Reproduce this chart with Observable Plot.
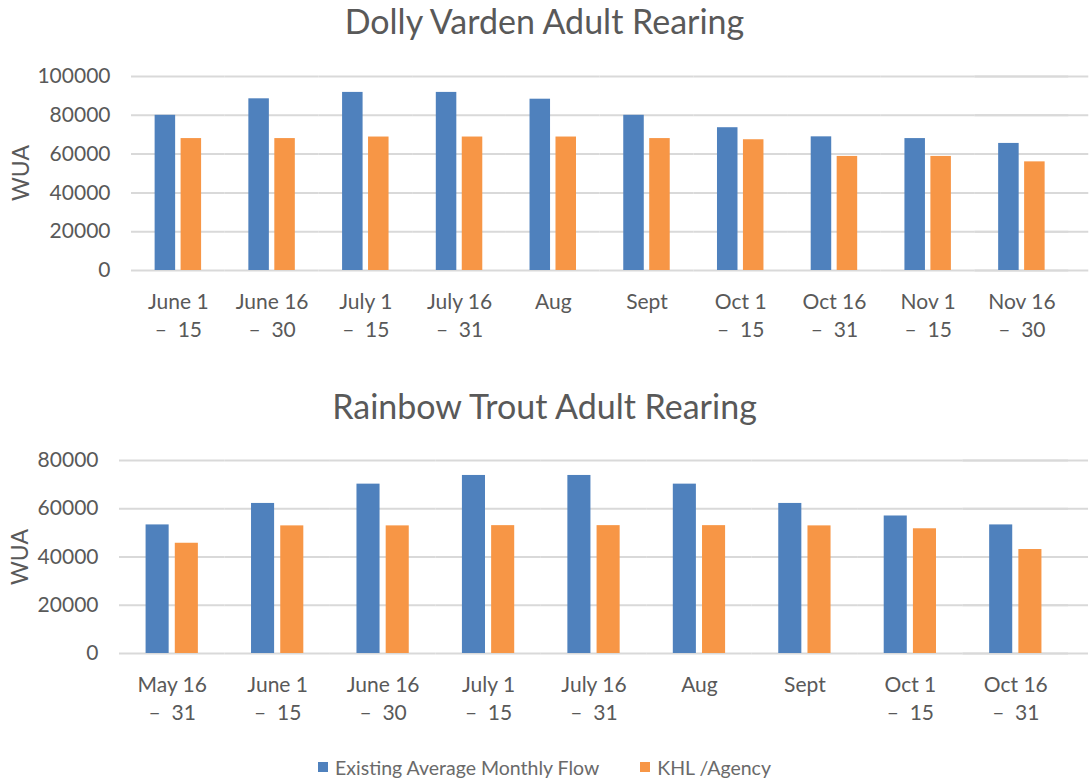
<!DOCTYPE html>
<html>
<head>
<meta charset="utf-8">
<script src="https://cdn.jsdelivr.net/npm/d3@7"></script>
<script src="https://cdn.jsdelivr.net/npm/@observablehq/plot@0.6"></script>
<style>
  body { margin: 0; background: #fff; }
  #wrap { position: relative; width: 1089px; height: 784px; font-family: Lato, sans-serif; color: #595959; overflow: hidden; }
  .title { position: absolute; left: 0; width: 1089px; height: 44px; line-height: 44px; text-align: center; font-size: 34px; white-space: nowrap; }
  .ylab { position: absolute; width: 200px; height: 30px; line-height: 30px; text-align: center; font-size: 23px; transform: rotate(-90deg); }
  .panel { position: absolute; left: 0; }
  #legend { position: absolute; left: 0; top: 752px; width: 1089px; height: 30px; display: flex; justify-content: center; align-items: center; font-size: 19.5px; color: #6a6a6a; }
  .sw { width: 10px; height: 10px; display: inline-block; margin-right: 7px; }
  .item { display: flex; align-items: center; }
</style>
</head>
<body>
<div id="wrap">
  <div class="title" id="t1" style="top:-1px"></div>
  <div class="ylab" style="left:-80px; top:158px">WUA</div>
  <div class="panel" id="p1" style="top:40px"></div>
  <div class="title" id="t2" style="top:384px"></div>
  <div class="ylab" style="left:-81px; top:542px">WUA</div>
  <div class="panel" id="p2" style="top:425px"></div>
  <div id="legend"></div>
</div>
<script>
// ---- Data ----
const dvTitle = "Dolly Varden Adult Rearing";
const dvCategories = ["June 1 – 15", "June 16 – 30", "July 1 – 15", "July 16 – 31", "Aug", "Sept", "Oct 1 – 15", "Oct 16 – 31", "Nov 1 – 15", "Nov 16 – 30"];
const dvExisting = [80000, 88500, 91800, 91800, 88300, 80000, 73600, 68900, 68000, 65500];
const dvKHL = [68000, 68000, 68800, 68800, 68800, 68000, 67400, 58800, 58800, 56000];
const dvTicks = [0, 20000, 40000, 60000, 80000, 100000];

const rtTitle = "Rainbow Trout Adult Rearing";
const rtCategories = ["May 16 – 31", "June 1 – 15", "June 16 – 30", "July 1 – 15", "July 16 – 31", "Aug", "Sept", "Oct 1 – 15", "Oct 16 – 31"];
const rtExisting = [53300, 62200, 70200, 73800, 73800, 70200, 62200, 57000, 53300];
const rtKHL = [45700, 52900, 52900, 53000, 53000, 53000, 52900, 51700, 43100];
const rtTicks = [0, 20000, 40000, 60000, 80000];

const seriesNames = ["Existing Average Monthly Flow", "KHL /Agency"];
const seriesColors = ["#4F81BD", "#F79646"];
const yLabel = "WUA";

// ---- Panels ----
function panel(cats, a, b, ticks, opts) {
  const rows = cats.flatMap((c, i) => [
    {cat: c, series: seriesNames[0], v: a[i]},
    {cat: c, series: seriesNames[1], v: b[i]}
  ]);
  const last = cats[cats.length - 1];
  const gridStyle = {stroke: "#D9D9D9", strokeOpacity: 1, strokeWidth: 2};
  return Plot.plot({
    width: 1089,
    height: opts.height,
    marginLeft: opts.marginLeft,
    marginRight: 2,
    marginTop: opts.marginTop,
    marginBottom: opts.marginBottom,
    style: {fontFamily: "Lato, sans-serif", fontSize: "21px", color: "#595959", background: "transparent", overflow: "visible"},
    fx: {domain: cats, paddingInner: 0, paddingOuter: opts.fxPad, align: 0, round: false, label: null},
    x: {domain: seriesNames, paddingInner: 0.21, paddingOuter: 0.91, round: false, axis: null},
    y: {domain: [0, ticks[ticks.length - 1]], axis: null},
    color: {domain: seriesNames, range: seriesColors},
    marks: [
      Plot.gridY(ticks, gridStyle),
      Plot.ruleY(ticks.map(t => ({t, c: last})), {y: "t", fx: "c", ...gridStyle, insetRight: -20}),
      Plot.barY(rows, {fx: "cat", x: "series", y: "v", fill: "series"}),
      Plot.axisY(ticks, {tickSize: 0, tickPadding: 21, tickFormat: d => String(d), label: null}),
      Plot.axisFx({anchor: "bottom", tickSize: 0, tickPadding: 19, lineHeight: 1.33, tickFormat: d => d.replace(" – ", "\n–  "), label: null})
    ]
  });
}

document.getElementById("t1").textContent = dvTitle;
document.getElementById("t2").textContent = rtTitle;
document.querySelectorAll(".ylab").forEach(e => e.textContent = yLabel);

document.getElementById("p1").appendChild(panel(dvCategories, dvExisting, dvKHL, dvTicks,
  {height: 320, marginLeft: 131, marginTop: 36, marginBottom: 90, fxPad: 0.1}));
document.getElementById("p2").appendChild(panel(rtCategories, rtExisting, rtKHL, rtTicks,
  {height: 320, marginLeft: 119, marginTop: 35, marginBottom: 92, fxPad: 0.09}));

// ---- Legend ----
const legend = document.getElementById("legend");
seriesNames.forEach((name, i) => {
  const item = document.createElement("div");
  item.className = "item";
  if (i > 0) item.style.marginLeft = "41px";
  const sw = document.createElement("span");
  sw.className = "sw";
  sw.style.background = seriesColors[i];
  const tx = document.createElement("span");
  tx.textContent = name;
  item.appendChild(sw);
  item.appendChild(tx);
  legend.appendChild(item);
});
</script>
</body>
</html>
